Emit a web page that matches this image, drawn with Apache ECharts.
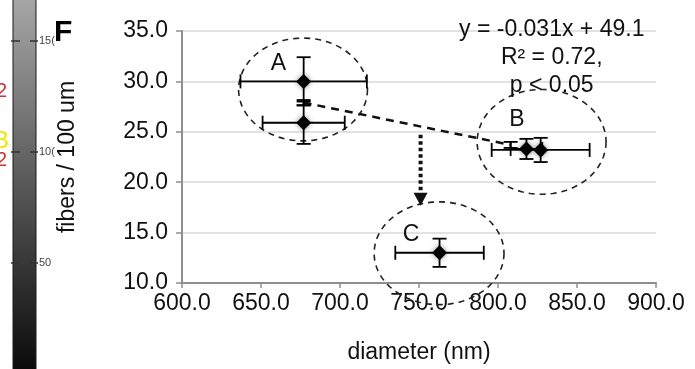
<!DOCTYPE html>
<html>
<head>
<meta charset="utf-8">
<script src="https://cdn.jsdelivr.net/npm/echarts@6/dist/echarts.min.js"></script>
<style>
  html, body { margin: 0; padding: 0; background: #fff; }
  #chart { width: 695px; height: 369px; }
</style>
</head>
<body>
<div id="chart"></div>
<script>
// measured points (diameter nm, fibers / 100 um) with +/- errors
const diameter = [677, 677, 818, 827, 763];
const fibers = [30.0, 25.9, 23.3, 23.2, 13.0];
const diameterErr = [40, 26, 10, 31, 28];
const fibersErr = [2.4, 2.1, 1.0, 1.2, 1.4];

// group means A -> B (dashed trend)
const meanX = [677, 808];
const meanY = [27.9, 23.7];
const meanErr = [0.25, 0.3];

// dotted arrow down to group C
const arrowX = [751, 751];
const arrowY = [24.7, 18.3];

// groups circled
const groupNames = ['A', 'B', 'C'];
const groupX = [661, 812, 745];
const groupY = [31.8, 26.2, 14.8];
const ringX = [676.6, 827.6, 762.7];
const ringY = [29.2, 24.0, 12.95];
const ringRx = [40.8, 40.8, 41.1];
const ringRy = [5.1, 5.2, 5.1];

// regression text
const noteLines = ['y = -0.031x + 49.1', 'R² = 0.72,', 'p < 0.05'];
const noteY = [35.1, 32.4, 29.6];
const noteX = 834;

const xMin = 600, xMax = 900, xStep = 50;
const yMin = 10, yMax = 35, yStep = 5;

const font = 'Liberation Sans, Arial, Helvetica, sans-serif';
const chart = echarts.init(document.getElementById('chart'));

function errorBars(params, api) {
  const x = api.value(0), y = api.value(1), ex = api.value(2), ey = api.value(3);
  const style = { stroke: '#000', lineWidth: 1.8 };
  const cap = 7;
  const kids = [];
  if (ex > 0) {
    const l = api.coord([x - ex, y]), r = api.coord([x + ex, y]);
    kids.push({ type: 'line', shape: { x1: l[0], y1: l[1], x2: r[0], y2: r[1] }, style });
    kids.push({ type: 'line', shape: { x1: l[0], y1: l[1] - cap, x2: l[0], y2: l[1] + cap }, style });
    kids.push({ type: 'line', shape: { x1: r[0], y1: r[1] - cap, x2: r[0], y2: r[1] + cap }, style });
  }
  if (ey > 0) {
    const t = api.coord([x, y + ey]), b = api.coord([x, y - ey]);
    kids.push({ type: 'line', shape: { x1: t[0], y1: t[1], x2: b[0], y2: b[1] }, style });
    kids.push({ type: 'line', shape: { x1: t[0] - cap, y1: t[1], x2: t[0] + cap, y2: t[1] }, style });
    kids.push({ type: 'line', shape: { x1: b[0] - cap, y1: b[1], x2: b[0] + cap, y2: b[1] }, style });
  }
  return { type: 'group', children: kids };
}

function ring(params, api) {
  const c = api.coord([api.value(0), api.value(1)]);
  const rx = api.size([api.value(2), 0])[0];
  const ry = api.size([0, api.value(3)])[1];
  const pts = [];
  for (let i = 0; i < 90; i++) {
    const a = i / 90 * Math.PI * 2;
    pts.push([c[0] + rx * Math.cos(a), c[1] + ry * Math.sin(a)]);
  }
  return {
    type: 'polygon',
    shape: { points: pts },
    style: { fill: 'none', stroke: '#222', lineWidth: 1.6, lineDash: [6, 5] }
  };
}

// text placed in data space
function textAt(texts) {
  return function (params, api) {
    const p = api.coord([api.value(0), api.value(1)]);
    return {
      type: 'text', x: p[0], y: p[1],
      style: { text: texts[params.dataIndex], fill: '#111', font: '23px ' + font, align: 'center', verticalAlign: 'middle' }
    };
  };
}

const bar = { x: 13, w: 23 };
const barTicks = [[41, '15('], [152, '10('], [263, '50']];
const graphics = [{
  type: 'rect',
  shape: { x: bar.x, y: -5, width: bar.w, height: 380 },
  style: {
    fill: new echarts.graphic.LinearGradient(0, 0, 0, 1, [
      { offset: 0, color: '#a8a8a8' }, { offset: 1, color: '#080808' }
    ]),
    stroke: '#1a1a1a', lineWidth: 1
  }
}];
barTicks.forEach(([y, t]) => {
  graphics.push({ type: 'line', shape: { x1: 11, y1: y, x2: 20, y2: y }, style: { stroke: '#333', lineWidth: 1.5 } });
  graphics.push({ type: 'line', shape: { x1: 30, y1: y, x2: 38, y2: y }, style: { stroke: '#333', lineWidth: 1.5 } });
  graphics.push({ type: 'text', x: 39, y: y, style: { text: t, fill: '#444', font: '11px ' + font, verticalAlign: 'middle' } });
});
graphics.push(
  { type: 'text', x: 7, y: 91, style: { text: '2', fill: '#d03030', font: '20px ' + font, align: 'right', verticalAlign: 'middle' } },
  { type: 'text', x: 7, y: 160, style: { text: '2', fill: '#d03030', font: '20px ' + font, align: 'right', verticalAlign: 'middle' } },
  { type: 'text', x: 9, y: 141, style: { text: 'B', fill: '#f2e600', font: '24px ' + font, align: 'right', verticalAlign: 'middle' } },
  { type: 'text', x: 54, y: 33, style: { text: 'F', fill: '#000', font: 'bold 30px ' + font, verticalAlign: 'middle' } }
);

const option = {
  animation: false,
  backgroundColor: '#fff',
  grid: { left: 182, right: 39, top: 31, bottom: 85 },
  xAxis: {
    type: 'value', min: xMin, max: xMax, interval: xStep,
    name: 'diameter (nm)', nameLocation: 'middle', nameGap: 58,
    nameTextStyle: { fontSize: 23, color: '#111', fontFamily: font },
    axisLine: { lineStyle: { color: '#8e8e8e', width: 2 } },
    axisTick: { show: true, length: 5, lineStyle: { color: '#8e8e8e', width: 1.5 } },
    axisLabel: { fontSize: 23, color: '#111', fontFamily: font, margin: 9, formatter: v => v.toFixed(1) },
    splitLine: { show: false }
  },
  yAxis: {
    type: 'value', min: yMin, max: yMax, interval: yStep,
    name: 'fibers / 100 um', nameLocation: 'middle', nameGap: 103,
    nameTextStyle: { fontSize: 23, color: '#111', fontFamily: font },
    axisLine: { show: true, lineStyle: { color: '#8e8e8e', width: 2 } },
    axisTick: { show: true, length: 6, lineStyle: { color: '#8e8e8e', width: 1.5 } },
    axisLabel: { fontSize: 23, color: '#111', fontFamily: font, margin: 14, formatter: v => v.toFixed(1) },
    splitLine: { lineStyle: { color: '#d9d9d9', width: 1.5 } }
  },
  graphic: graphics,
  series: [
    {
      type: 'custom', renderItem: ring, silent: true, z: 2, clip: false,
      data: ringX.map((x, i) => [x, ringY[i], ringRx[i], ringRy[i]])
    },
    {
      type: 'line', z: 3, silent: true,
      data: meanX.map((x, i) => [x, meanY[i]]),
      symbol: 'none',
      lineStyle: { color: '#111', width: 2.5, type: [8, 6] }
    },
    {
      type: 'line', z: 3, silent: true,
      data: [
        { value: [arrowX[0], arrowY[0]], symbol: 'none' },
        { value: [arrowX[1], arrowY[1]], symbol: 'triangle', symbolRotate: 180, symbolSize: [14, 13] }
      ],
      itemStyle: { color: '#111', opacity: 1 },
      lineStyle: { color: '#111', width: 4, type: [3.5, 3] }
    },
    {
      type: 'custom', renderItem: errorBars, silent: true, z: 4,
      data: meanX.map((x, i) => [x, meanY[i], 0, meanErr[i]])
    },
    {
      type: 'custom', renderItem: errorBars, silent: true, z: 4,
      data: diameter.map((x, i) => [x, fibers[i], diameterErr[i], fibersErr[i]])
    },
    {
      type: 'scatter', z: 5, silent: true,
      data: diameter.map((x, i) => [x, fibers[i]]),
      symbol: 'diamond', symbolSize: 15,
      itemStyle: { color: '#000', opacity: 1, shadowBlur: 5, shadowColor: 'rgba(0,0,0,0.45)' }
    },
    {
      type: 'custom', renderItem: textAt(groupNames), silent: true, z: 6, clip: false,
      data: groupX.map((x, i) => [x, groupY[i]])
    },
    {
      type: 'custom', renderItem: textAt(noteLines), silent: true, z: 6, clip: false,
      data: noteLines.map((t, i) => [noteX, noteY[i]])
    }
  ]
};

chart.setOption(option);
</script>
</body>
</html>
